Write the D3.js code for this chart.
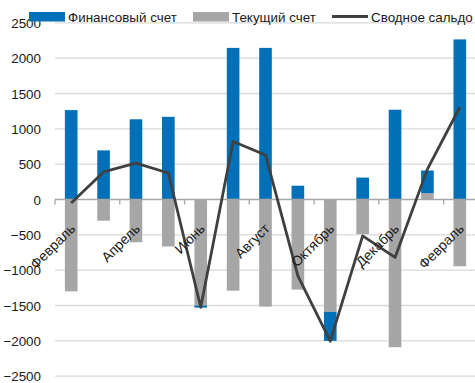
<!DOCTYPE html>
<html>
<head>
<meta charset="utf-8">
<script src="https://cdn.jsdelivr.net/npm/d3@7"></script>
<style>
  html, body { margin: 0; padding: 0; background: #fff; }
  svg { display: block; font-family: "Liberation Sans", Arial, sans-serif; }
</style>
</head>
<body>
<svg id="chart" width="475" height="383"></svg>
<script>
// Месяцы (по оси X)
const months = ["Февраль", "Март", "Апрель", "Май", "Июнь", "Июль", "Август",
                "Сентябрь", "Октябрь", "Ноябрь", "Декабрь", "Январь", "Февраль"];
// Финансовый счет
const financial = [1265, 695, 1135, 1170, -30, 2145, 2145, 195, -410, 310, 1270, 320, 2265];
// Текущий счет
const current = [-1300, -300, -605, -665, -1500, -1290, -1515, -1275, -1590, -490, -2090, 90, -945];
// Сводное сальдо
const balance = [-50, 390, 515, 375, -1525, 820, 630, -1080, -2005, -515, -820, 430, 1305];
// Деления оси Y
const yTicks = [-2500, -2000, -1500, -1000, -500, 0, 500, 1000, 1500, 2000, 2500];

const colors = { financial: "#0070B8", current: "#A6A6A6", balance: "#404040" };
const fontSize = 13.4;

const svg = d3.select("#chart");
const plotLeft = 55, plotRight = 476, plotTop = 22.8, plotBottom = 376.2;

const idx = months.map((_, i) => i);
const x = d3.scaleBand().domain(idx).range([plotLeft, plotRight]).paddingInner(0.61).paddingOuter(0.305);
const y = d3.scaleLinear().domain([-2500, 2500]).range([plotBottom, plotTop]);

// Горизонтальная сетка
svg.append("g")
  .selectAll("line")
  .data(yTicks.filter(v => v !== 0))
  .join("line")
  .attr("x1", plotLeft).attr("x2", 475)
  .attr("y1", d => y(d)).attr("y2", d => y(d))
  .attr("stroke", "#d9d9d9").attr("stroke-width", 1.3);

// Подписи оси Y
const yAxis = d3.axisLeft(y).tickValues(yTicks).tickFormat(d3.format("d")).tickSize(0).tickPadding(0);
svg.append("g")
  .attr("transform", `translate(${plotLeft - 14},0)`)
  .call(yAxis)
  .call(g => g.select(".domain").remove())
  .call(g => g.selectAll("text")
    .attr("font-size", fontSize).attr("fill", "#1a1a1a")
    .attr("font-family", "Liberation Sans, Arial, sans-serif")
    .attr("dy", "0.35em"));

// Столбцы: текущий счет ближе к оси, финансовый поверх
const rows = idx.map(i => ({ i, current: current[i], financial: financial[i] }));
const stack = d3.stack().keys(["current", "financial"]).offset(d3.stackOffsetDiverging);
const layers = stack(rows);

svg.append("g")
  .selectAll("g")
  .data(layers)
  .join("g")
  .attr("fill", d => colors[d.key])
  .selectAll("rect")
  .data(d => d)
  .join("rect")
  .attr("x", d => x(d.data.i))
  .attr("width", x.bandwidth())
  .attr("y", d => y(Math.max(d[0], d[1])))
  .attr("height", d => Math.abs(y(d[0]) - y(d[1])));

// Ось X (нулевая линия) с делениями через каждые два месяца
const step = x.step();
const boundaries = d3.range(0, months.length + 1, 2).map(k => plotLeft + k * step);
const axisG = svg.append("g");
axisG.append("line")
  .attr("x1", plotLeft).attr("x2", 475)
  .attr("y1", y(0)).attr("y2", y(0))
  .attr("stroke", "#a6a6a6").attr("stroke-width", 1.5);
axisG.selectAll("line.tick")
  .data(boundaries)
  .join("line")
  .attr("class", "tick")
  .attr("x1", d => d).attr("x2", d => d)
  .attr("y1", y(0)).attr("y2", y(0) + 5)
  .attr("stroke", "#a6a6a6").attr("stroke-width", 1.3);

// Линия сводного сальдо
const line = d3.line()
  .x((d, i) => x(i) + x.bandwidth() / 2)
  .y(d => y(d));
svg.append("path")
  .datum(balance)
  .attr("d", line)
  .attr("fill", "none")
  .attr("stroke", colors.balance)
  .attr("stroke-width", 2.8)
  .attr("stroke-linejoin", "round");

// Подписи месяцев (каждый второй), повёрнутые на -45°
svg.append("g")
  .selectAll("text")
  .data(idx.filter(i => i % 2 === 0))
  .join("text")
  .attr("transform", i => `translate(${x(i) + x.bandwidth() / 2 + 5},${y(0) + 30}) rotate(-45)`)
  .attr("text-anchor", "end")
  .attr("font-size", 14)
  .attr("fill", "#1a1a1a")
  .text(i => months[i]);

// Легенда
const legend = svg.append("g");
const items = [
  { label: "Финансовый счет", key: "financial", type: "rect", x: 29 },
  { label: "Текущий счет", key: "current", type: "rect", x: 193 },
  { label: "Сводное сальдо", key: "balance", type: "line", x: 332 }
];
items.forEach(it => {
  if (it.type === "rect") {
    legend.append("rect")
      .attr("x", it.x).attr("y", 12).attr("width", 36).attr("height", 9.5)
      .attr("fill", colors[it.key]);
  } else {
    legend.append("line")
      .attr("x1", it.x).attr("x2", it.x + 36)
      .attr("y1", 16.5).attr("y2", 16.5)
      .attr("stroke", colors[it.key]).attr("stroke-width", 2.8);
  }
  legend.append("text")
    .attr("x", it.x + 39).attr("y", 21.5)
    .attr("font-size", fontSize).attr("fill", "#1a1a1a")
    .text(it.label);
});
</script>
</body>
</html>
